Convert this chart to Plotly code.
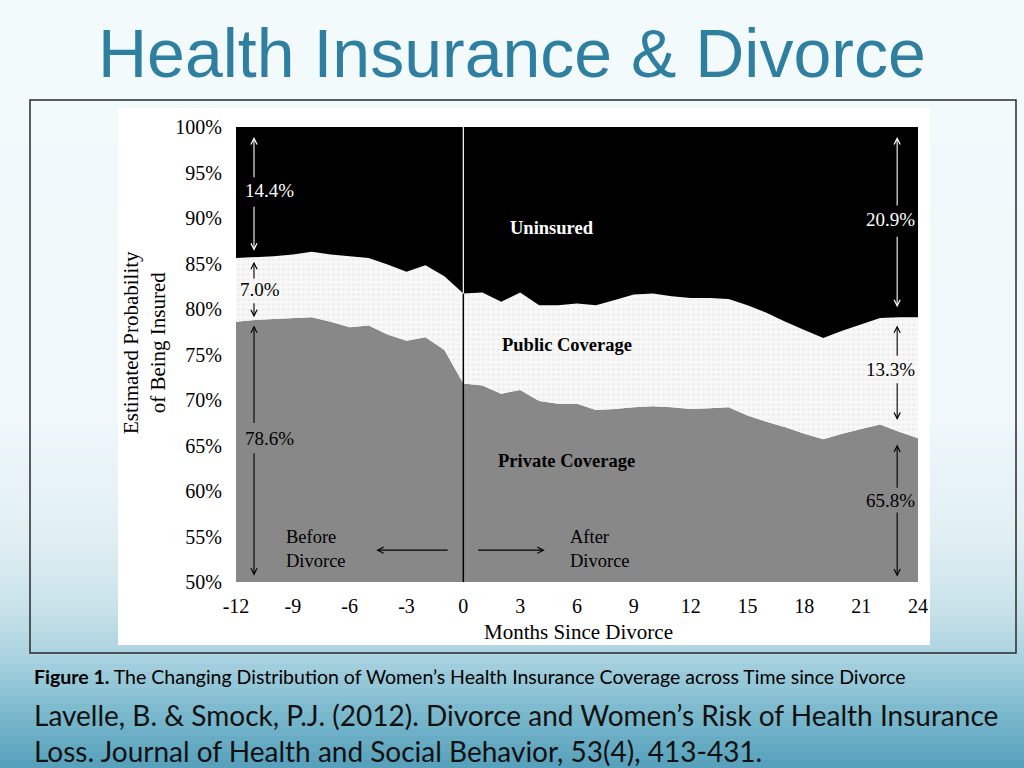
import plotly.graph_objects as go

# ---------------- data ----------------
months = list(range(-12, 25))
private_coverage = [78.6, 78.8, 78.9, 79.0, 79.1, 78.6, 78.0, 78.2, 77.2, 76.5, 76.9, 75.5, 71.8,
                    71.6, 70.7, 71.1, 69.9, 69.6, 69.6, 68.9, 69.0, 69.2, 69.3, 69.2, 69.0,
                    69.1, 69.2, 68.3, 67.6, 67.0, 66.3, 65.7, 66.3, 66.8, 67.3, 66.5, 65.8]
public_coverage = [7.0, 6.9, 6.9, 7.0, 7.2, 7.4, 7.8, 7.4, 7.7, 7.6, 7.9, 8.1, 9.9,
                   10.2, 10.1, 10.7, 10.5, 10.8, 11.0, 11.5, 12.0, 12.4, 12.4, 12.2, 12.2,
                   12.1, 11.9, 12.1, 12.0, 11.6, 11.4, 11.1, 11.3, 11.5, 11.7, 12.6, 13.3]
uninsured = [14.4, 14.3, 14.2, 14.0, 13.7, 14.0, 14.2, 14.4, 15.1, 15.9, 15.2, 16.4, 18.3,
             18.2, 19.2, 18.2, 19.6, 19.6, 19.4, 19.6, 19.0, 18.4, 18.3, 18.6, 18.8,
             18.8, 18.9, 19.6, 20.4, 21.4, 22.3, 23.2, 22.4, 21.7, 21.0, 20.9, 20.9]
x_ticks = [-12, -9, -6, -3, 0, 3, 6, 9, 12, 15, 18, 21, 24]
x_tick_labels = ["-12", "-9", "-6", "-3", "0", "3", "6", "9", "12", "15", "18", "21", "24"]
y_ticks = [50, 55, 60, 65, 70, 75, 80, 85, 90, 95, 100]
y_tick_labels = ["50%", "55%", "60%", "65%", "70%", "75%", "80%", "85%", "90%", "95%", "100%"]

SERIF = "Liberation Serif, Times New Roman, serif"
W, H = 1024, 768
L, R, T, B = 236, 106, 127, 186
PW, PH = W - L - R, H - T - B


def px_x(p):
    return (p - L) / PW


def px_y(p):
    return (H - B - p) / PH


fig = go.Figure()
fig.add_trace(go.Scatter(x=months, y=private_coverage, stackgroup="s", mode="lines",
                         line=dict(width=0), fillcolor="#888888", name="Private Coverage",
                         hoverinfo="skip"))
fig.add_trace(go.Scatter(x=months, y=public_coverage, stackgroup="s", mode="lines",
                         line=dict(width=0), fillcolor="#f6f6f6", name="Public Coverage",
                         fillpattern=dict(shape=".", fgcolor="#e4e4e4", bgcolor="#f8f8f8",
                                          size=5, solidity=0.3),
                         hoverinfo="skip"))
fig.add_trace(go.Scatter(x=months, y=uninsured, stackgroup="s", mode="lines",
                         line=dict(width=0), fillcolor="#000000", name="Uninsured",
                         hoverinfo="skip"))

shapes = []
# background gradient (slide)
stops = [(0, (244, 251, 253)), (420, (240, 248, 251)), (540, (224, 239, 244)),
         (610, (200, 226, 234)), (660, (168, 210, 223)), (710, (126, 187, 206)),
         (768, (86, 160, 188))]
n = 96
for i in range(n):
    y0p = i * H / n
    y1p = (i + 1) * H / n
    yc = (y0p + y1p) / 2
    for j in range(len(stops) - 1):
        if stops[j][0] <= yc <= stops[j + 1][0]:
            t = (yc - stops[j][0]) / (stops[j + 1][0] - stops[j][0])
            c = tuple(int(stops[j][1][k] + t * (stops[j + 1][1][k] - stops[j][1][k])) for k in range(3))
            break
    shapes.append(dict(type="rect", xref="paper", yref="paper", layer="below",
                       x0=px_x(0), x1=px_x(W), y0=px_y(y1p + 0.5), y1=px_y(y0p),
                       fillcolor="rgb(%d,%d,%d)" % c, line=dict(width=0)))
# white picture area
shapes.append(dict(type="rect", xref="paper", yref="paper", layer="below",
                   x0=px_x(118), x1=px_x(930), y0=px_y(645), y1=px_y(108),
                   fillcolor="white", line=dict(width=0)))
# frame
shapes.append(dict(type="rect", xref="paper", yref="paper", layer="below",
                   x0=px_x(30), x1=px_x(1016), y0=px_y(653), y1=px_y(100),
                   fillcolor="rgba(0,0,0,0)", line=dict(color="#2a2a2a", width=1.5)))
# divorce line at month 0
i0 = months.index(0)
top0 = private_coverage[i0] + public_coverage[i0]
shapes.append(dict(type="line", xref="x", yref="y", x0=0, x1=0, y0=50, y1=top0,
                   line=dict(color="black", width=1.5), layer="above"))
shapes.append(dict(type="line", xref="x", yref="y", x0=0, x1=0, y0=top0, y1=100,
                   line=dict(color="white", width=1.2), layer="above"))
fig.update_layout(shapes=shapes)

ann = []


def arrow(x, y_head, y_tail, color):
    ann.append(dict(x=x, y=y_head, ax=x, ay=y_tail, xref="x", yref="y", axref="x", ayref="y",
                    text="", showarrow=True, arrowhead=5, arrowsize=1.1, arrowwidth=1.1,
                    arrowcolor=color))


def label(x, y, text, color="black", size=19, bold=False, xanchor="center", align="center"):
    ann.append(dict(x=x, y=y, xref="x", yref="y", text=("<b>%s</b>" % text) if bold else text,
                    showarrow=False, xanchor=xanchor, yanchor="middle", align=align,
                    font=dict(family=SERIF, size=size, color=color)))


xl, xr = -11.05, 22.9
xl_text, xr_text = -10.25, 22.55
# left side
label(xl_text, 93.0, "14.4%", color="white")
arrow(xl, 98.9, 94.3, "white")
arrow(xl, 86.4, 91.4, "white")
label(-10.72, 82.1, "7.0%")
arrow(xl, 85.2, 83.2, "black")
arrow(xl, 79.1, 80.8, "black")
label(xl_text, 65.8, "78.6%")
arrow(xl, 78.2, 67.3, "black")
arrow(xl, 50.7, 64.3, "black")
# right side
label(xr_text, 89.8, "20.9%", color="white")
arrow(xr, 98.9, 91.2, "white")
arrow(xr, 80.2, 88.1, "white")
label(xr_text, 73.3, "13.3%")
arrow(xr, 78.2, 74.7, "black")
arrow(xr, 67.8, 72.0, "black")
label(xr_text, 59.0, "65.8%")
arrow(xr, 65.1, 60.2, "black")
arrow(xr, 50.6, 57.8, "black")
# section labels
label(4.7, 88.9, "Uninsured", color="white", size=18.5, bold=True)
label(5.45, 76.0, "Public Coverage", size=18.5, bold=True)
label(5.45, 63.3, "Private Coverage", size=18.5, bold=True)
label(-9.45, 53.6, "Before<br>Divorce", size=18.5, xanchor="left", align="left")
label(5.55, 53.6, "After<br>Divorce", size=18.5, xanchor="left", align="left")
ann.append(dict(x=-4.6, y=53.5, ax=-0.75, ay=53.5, xref="x", yref="y", axref="x", ayref="y",
                text="", showarrow=True, arrowhead=5, arrowsize=1.1, arrowwidth=1.1,
                arrowcolor="black"))
ann.append(dict(x=4.3, y=53.5, ax=0.7, ay=53.5, xref="x", yref="y", axref="x", ayref="y",
                text="", showarrow=True, arrowhead=5, arrowsize=1.1, arrowwidth=1.1,
                arrowcolor="black"))


def ptext(xp, yp, text, font, xanchor="center", align="center", angle=0):
    ann.append(dict(x=px_x(xp), y=px_y(yp), xref="paper", yref="paper", showarrow=False,
                    xanchor=xanchor, yanchor="middle", align=align, textangle=angle,
                    text=text, font=font))


# axis titles
ptext(144, 343, "Estimated Probability<br>of Being Insured",
      dict(family=SERIF, size=21, color="black"), angle=-90)
ptext(578, 632, "Months Since Divorce", dict(family=SERIF, size=21, color="black"))
# slide texts
ptext(512, 53, "Health Insurance &amp; Divorce",
      dict(family="Liberation Sans Narrow, Arial Narrow, Liberation Sans, sans-serif",
           size=68, color="#2f7fa0"))
ptext(32, 676,
      "<b>Figure 1.</b> The Changing Distribution of Women’s Health Insurance Coverage across Time since Divorce",
      dict(family="Lato, sans-serif", size=19.5, color="black"), xanchor="left", align="left")
ptext(32, 733,
      "Lavelle, B. &amp; Smock, P.J. (2012). Divorce and Women’s Risk of Health Insurance<br>Loss. Journal of Health and Social Behavior, 53(4), 413-431.",
      dict(family="Lato, sans-serif", size=28, color="#111111"), xanchor="left", align="left")
fig.update_layout(annotations=ann)

fig.update_layout(
    width=W, height=H,
    margin=dict(l=L, r=R, t=T, b=B),
    paper_bgcolor="#f4fbfd",
    plot_bgcolor="rgba(0,0,0,0)",
    showlegend=False,
    xaxis=dict(range=[-12, 24], tickvals=x_ticks, ticktext=x_tick_labels, showgrid=False,
               zeroline=False, showline=False, ticks="", ticklabelstandoff=10,
               tickfont=dict(family=SERIF, size=20, color="black")),
    yaxis=dict(range=[50, 100], tickvals=y_ticks, ticktext=y_tick_labels, showgrid=False,
               zeroline=False, showline=False, ticks="", ticklabelstandoff=13,
               tickfont=dict(family=SERIF, size=20, color="black")),
)

fig.write_html("out.html", config={"displayModeBar": False},
               post_script="document.body.style.margin='0px';")
